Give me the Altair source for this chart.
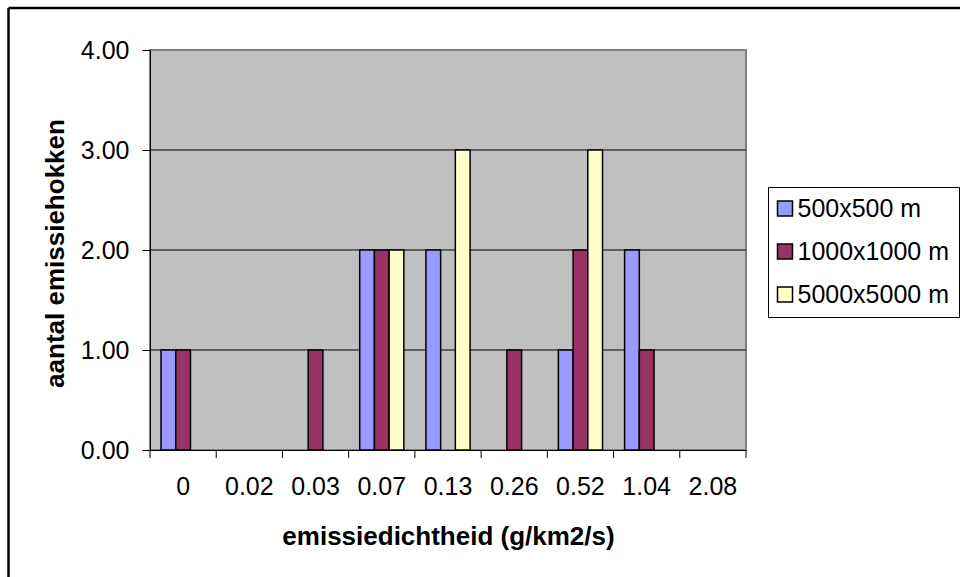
import altair as alt
import pandas as pd

categories = ["0", "0.02", "0.03", "0.07", "0.13", "0.26", "0.52", "1.04", "2.08"]
series_names = ["500x500 m", "1000x1000 m", "5000x5000 m"]
s500 = [1, 0, 0, 2, 2, 0, 1, 2, 0]
s1000 = [1, 0, 1, 2, 0, 1, 2, 1, 0]
s5000 = [0, 0, 0, 2, 3, 0, 3, 0, 0]
colors = ["#9999FF", "#993366", "#FFFFCC"]
y_ticks = [0, 1, 2, 3, 4]
grid_values = [1, 2, 3]

FONT = "Liberation Sans"

rows = []
for name, vals in zip(series_names, [s500, s1000, s5000]):
    for c, v in zip(categories, vals):
        if v > 0:
            rows.append({"cat": c, "series": name, "value": v})
df = pd.DataFrame(rows)

x_scale = alt.Scale(domain=categories, paddingInner=0, paddingOuter=0)
y_scale = alt.Scale(domain=[0, 4], nice=False)

grid = alt.Chart(pd.DataFrame({"value": grid_values})).mark_rule(
    color="black", strokeWidth=1
).encode(y=alt.Y("value:Q", scale=y_scale))

bars = alt.Chart(df).mark_bar(stroke="black", strokeWidth=1.5).encode(
    x=alt.X(
        "cat:N",
        scale=x_scale,
        sort=categories,
        axis=alt.Axis(
            title="emissiedichtheid (g/km2/s)",
            labelAngle=0,
            ticks=False,
            tickSize=0,
            domainColor="black",
            domainWidth=1,
            labelPadding=24,
            grid=False,
            titleY=94,
            titleBaseline="alphabetic",
        ),
    ),
    xOffset=alt.XOffset(
        "series:N",
        sort=series_names,
        scale=alt.Scale(domain=series_names, paddingInner=0, paddingOuter=0.75),
    ),
    y=alt.Y(
        "value:Q",
        scale=y_scale,
        axis=alt.Axis(
            values=y_ticks,
            format=".2f",
            title="aantal emissiehokken",
            tickSize=8,
            tickColor="black",
            domainColor="black",
            domainWidth=1,
            labelPadding=13,
            grid=False,
            titleAngle=270,
            titleX=-87,
            titleY=203,
            titleAlign="center",
            titleBaseline="alphabetic",
        ),
    ),
    color=alt.Color(
        "series:N",
        scale=alt.Scale(domain=series_names, range=colors),
        legend=alt.Legend(
            title=None,
            orient="none",
            legendX=618,
            legendY=137,
            strokeColor="black",
            fillColor="white",
            padding=9,
            symbolType="square",
            symbolSize=225,
            symbolStrokeColor="black",
            symbolStrokeWidth=1.5,
            symbolOpacity=1,
            symbolOffset=-4.5,
            labelFontSize=25,
            labelFont=FONT,
            labelColor="black",
            labelOffset=0,
            rowPadding=17,
        ),
    ),
)

tick_df = pd.DataFrame({"cat": categories})
ticks_left = alt.Chart(tick_df).mark_rule(color="black", strokeWidth=1).encode(
    x=alt.X("cat:N", bandPosition=0),
    y=alt.value(400),
    y2=alt.value(408),
)
ticks_end = alt.Chart(pd.DataFrame({"cat": categories[-1:]})).mark_rule(
    color="black", strokeWidth=1
).encode(
    x=alt.X("cat:N", bandPosition=1),
    y=alt.value(400),
    y2=alt.value(408),
)

frame = alt.Data(values=[{}])
border_top = alt.Chart(frame).mark_rule(color="black", strokeWidth=2.5).encode(
    x=alt.value(-141.5), x2=alt.value(830), y=alt.value(-42)
)
border_left = alt.Chart(frame).mark_rule(color="black", strokeWidth=2.5).encode(
    x=alt.value(-141.5), y=alt.value(-42), y2=alt.value(540)
)

chart = (
    alt.layer(grid, bars, ticks_left, ticks_end, border_top, border_left)
    .properties(
        width=596,
        height=400,
        autosize=alt.AutoSizeParams(type="none"),
        padding={"left": 150, "top": 50, "right": 214, "bottom": 127},
        background="white",
    )
    .configure_view(fill="#C0C0C0", stroke="#808080", strokeWidth=2)
    .configure_axis(
        labelFont=FONT,
        titleFont=FONT,
        labelFontSize=25,
        titleFontSize=26,
        titleFontWeight="bold",
        labelColor="black",
        titleColor="black",
    )
)

chart.save("out.html", embed_options={"renderer": "svg", "actions": False})
